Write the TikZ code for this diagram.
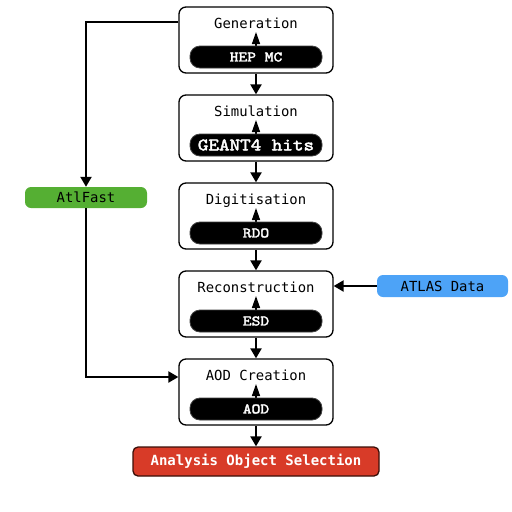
\documentclass[tikz,border=0pt]{standalone}
\usepackage{fontspec}
\newfontfamily\sansmono{DejaVu Sans Mono}
\newfontfamily\pillfont{lmmono10-regular.otf}[FakeBold=2.5,FakeStretch=1.15]
\usetikzlibrary{arrows.meta,calc}
\definecolor{atlgreen}{HTML}{55AF33}
\definecolor{atlblue}{HTML}{4DA3F7}
\definecolor{anared}{HTML}{D83B28}
\definecolor{anaborder}{HTML}{3A0F08}
\begin{document}
\begin{tikzpicture}[x=1pt,y=-1pt,
  stage/.style={draw=black, line width=1.3pt, rounded corners=7pt, minimum width=154pt, minimum height=66pt, fill=white, inner sep=0pt},
  titletxt/.style={font=\sansmono\fontsize{13.9}{16}\selectfont, inner sep=0pt, anchor=base},
  pill/.style={fill=black, draw=black!75, line width=0.8pt, rounded corners=10pt, minimum width=132pt, minimum height=22pt, text=white, font=\pillfont\fontsize{14.5}{15}\selectfont, inner sep=0pt},
  bigpill/.style={pill, font=\pillfont\fontsize{17.5}{18}\selectfont},
  flow/.style={line width=2.2pt, -{Triangle[width=11pt,length=10pt]}},
  inarrow/.style={line width=1.4pt, -{Triangle[width=8pt,length=12pt]}},
  side/.style={rounded corners=6pt, inner sep=0pt, font=\sansmono\fontsize{13.9}{16}\selectfont, text=black},
]
\useasboundingbox (0,0) rectangle (512,512);

% Generation
\node[stage] (gen) at (256,40) {};
\node[titletxt] (genT) at (256,28) {Generation};
\coordinate (genPc) at (256,57);
\draw[inarrow] (genPc) -- ++(0,-25);
\node[pill] (genP) at (genPc) {HEP MC};

% Simulation
\node[stage] (sim) at (256,128) {};
\node[titletxt] (simT) at (256,116) {Simulation};
\coordinate (simPc) at (256,145);
\draw[inarrow] (simPc) -- ++(0,-25);
\node[bigpill] (simP) at (simPc) {GEANT4 hits};

% Digitisation
\node[stage] (dig) at (256,216) {};
\node[titletxt] (digT) at (256,204) {Digitisation};
\coordinate (digPc) at (256,233);
\draw[inarrow] (digPc) -- ++(0,-25);
\node[pill] (digP) at (digPc) {RDO};

% Reconstruction
\node[stage] (rec) at (256,304) {};
\node[titletxt] (recT) at (256,292) {Reconstruction};
\coordinate (recPc) at (256,321);
\draw[inarrow] (recPc) -- ++(0,-25);
\node[pill] (recP) at (recPc) {ESD};

% AOD Creation
\node[stage] (aod) at (256,392) {};
\node[titletxt] (aodT) at (256,380) {AOD Creation};
\coordinate (aodPc) at (256,409);
\draw[inarrow] (aodPc) -- ++(0,-25);
\node[pill] (aodP) at (aodPc) {AOD};

% Analysis
\node[fill=anared, draw=anaborder, line width=1.3pt, rounded corners=5pt, minimum width=246pt, minimum height=29pt, inner sep=0pt, text=white, font=\sansmono\bfseries\fontsize{14}{16}\selectfont] (ana) at (256,461.5) {Analysis Object Selection};

% side nodes
\node[side, fill=atlgreen, minimum width=122pt, minimum height=21pt] (atl) at (86,197.5) {AtlFast};
\node[side, fill=atlblue, minimum width=131pt, minimum height=22pt] (data) at (442.5,286) {ATLAS Data};

% main flow
\draw[flow] (gen.south) -- (sim.north);
\draw[flow] (sim.south) -- (dig.north);
\draw[flow] (dig.south) -- (rec.north);
\draw[flow] (rec.south) -- (aod.north);
\draw[flow] (aod.south) -- (ana.north);

% side flows
\draw[flow] ([yshift=18pt]gen.west) -| (atl.north);
\draw[flow] (atl.south) |- ([yshift=15pt]aod.west);
\draw[flow] (data.west) -- ([yshift=18pt]rec.east);
\end{tikzpicture}
\end{document}
